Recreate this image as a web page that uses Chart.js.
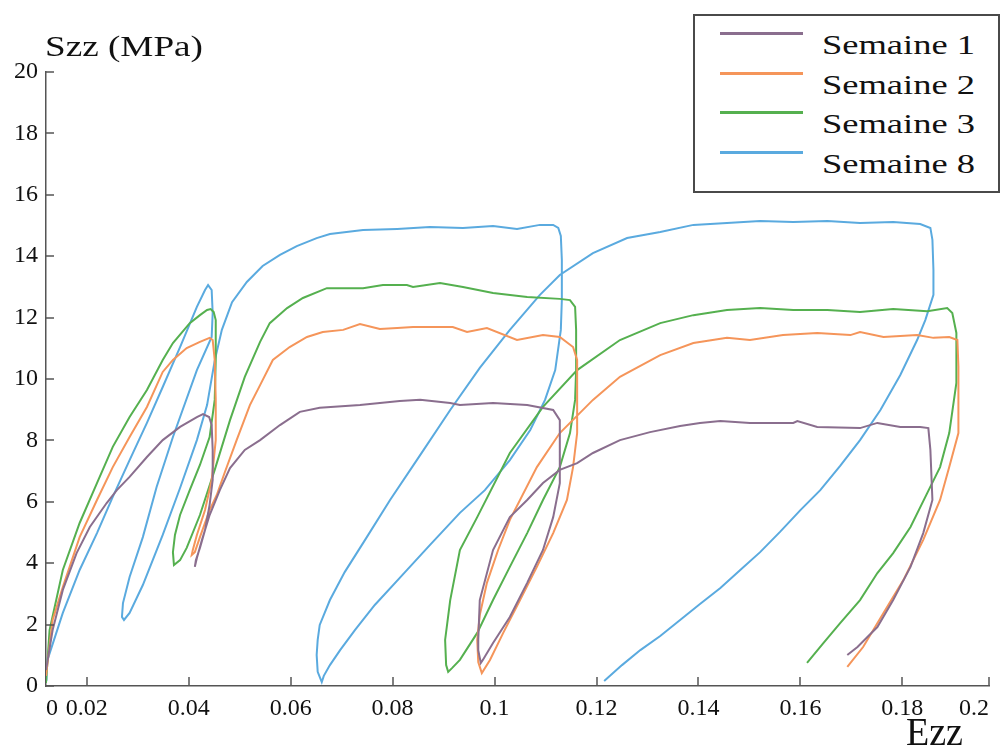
<!DOCTYPE html>
<html>
<head>
<meta charset="utf-8">
<title>Szz vs Ezz</title>
<script src="https://cdn.jsdelivr.net/npm/chart.js@4.4.1/dist/chart.umd.min.js"></script>
<style>
  body { margin: 0; background: #fff; }
  #wrap { position: relative; width: 1002px; height: 747px; font-family: "Liberation Serif", serif; color: #111; }
  #wrap canvas { position: absolute; left: 0; top: 0; }
  .lbl { position: absolute; white-space: nowrap; line-height: 1; transform-origin: left center; }
  #legend { position: absolute; left: 693px; top: 14px; width: 303px; height: 175px; border: 2px solid #4a4a4a; background: #fff; }
  .row { position: absolute; left: 0; width: 100%; height: 40px; }
  .swatch { position: absolute; left: 25px; width: 83px; height: 0; border-top: 3px solid; }
  .name { position: absolute; left: 127px; font-size: 27px; line-height: 1; white-space: nowrap; transform-origin: left center; }
</style>
</head>
<body>
<div id="wrap">
  <canvas id="chart" width="1002" height="747"></canvas>
  <div class="lbl" id="ytitle" style="left:45px; top:32px; font-size:29px;">Szz (MPa)</div>
  <div class="lbl" id="xtitle" style="left:906px; top:712px; font-size:40px;">Ezz</div>
  <div id="legend"></div>
</div>
<script>
// series names and colours
const seriesNames = ['Semaine 1', 'Semaine 2', 'Semaine 3', 'Semaine 8'];
const seriesColors = ['#8a6e8e', '#f5955a', '#55b04f', '#5aaadf'];

// axis ticks (the "0" and "0.2" labels sit on the axis ends)
const xTickPos = [0.012, 0.02, 0.04, 0.06, 0.08, 0.1, 0.12, 0.14, 0.16, 0.18, 0.197];
const xTickLabels = ['0', '0.02', '0.04', '0.06', '0.08', '0.1', '0.12', '0.14', '0.16', '0.18', '0.2'];
const yTicks = [0, 2, 4, 6, 8, 10, 12, 14, 16, 18, 20];

// Semaine 1
const s1Ezz = [
  0.0120, 0.0133, 0.0153, 0.0180, 0.0206, 0.0239, 0.0259, 0.0284, 0.0318, 0.0349,
  0.0383, 0.0416, 0.0428, 0.0440, 0.0445, 0.0447, 0.0447, 0.0441, 0.0432, 0.0422,
  0.0414, 0.0412,
  0.0416, 0.0426, 0.0441, 0.0461, 0.0481, 0.0510, 0.0540, 0.0579, 0.0618, 0.0657,
  0.0736, 0.0814, 0.0854, 0.0913, 0.0932, 0.0997, 0.1064, 0.1115, 0.1128, 0.1128,
  0.1128, 0.1115, 0.1095, 0.1064, 0.1030, 0.0997, 0.0977, 0.0973,
  0.0968, 0.0968, 0.0971, 0.0997, 0.1030, 0.1064, 0.1095, 0.1128, 0.1162, 0.1193,
  0.1246, 0.1305, 0.1364, 0.1403, 0.1443, 0.1501, 0.1586, 0.1594, 0.1633, 0.1717,
  0.1751, 0.1796, 0.1835, 0.1851, 0.1855, 0.1859, 0.1841, 0.1816, 0.1782, 0.1751,
  0.1712, 0.1692
];
const s1Szz = [
  0.52, 1.82, 3.13, 4.33, 5.18, 5.96, 6.38, 6.81, 7.46, 8.01,
  8.44, 8.76, 8.86, 8.76, 8.50, 7.69, 6.71, 5.90, 5.08, 4.50,
  4.10, 3.88,
  4.17, 4.76, 5.57, 6.38, 7.10, 7.69, 8.01, 8.50, 8.93, 9.06,
  9.15, 9.28, 9.32, 9.22, 9.15, 9.22, 9.15, 8.99, 8.66, 7.13,
  6.61, 5.50, 4.43, 3.36, 2.25, 1.40, 0.85, 0.75,
  1.17, 1.50, 2.80, 4.43, 5.50, 6.06, 6.61, 7.04, 7.26, 7.59,
  8.01, 8.27, 8.47, 8.57, 8.63, 8.57, 8.57, 8.63, 8.44, 8.40,
  8.57, 8.44, 8.44, 8.40, 7.69, 6.06, 4.98, 3.88, 2.80, 1.92,
  1.27, 1.01
];

// Semaine 2
const s2Ezz = [
  0.0120, 0.0133, 0.0153, 0.0186, 0.0220, 0.0251, 0.0284, 0.0318, 0.0349, 0.0369,
  0.0396, 0.0422, 0.0441, 0.0447, 0.0451, 0.0453, 0.0453, 0.0445, 0.0432, 0.0416,
  0.0408, 0.0406,
  0.0412, 0.0422, 0.0441, 0.0455, 0.0471, 0.0494, 0.0520, 0.0540, 0.0565, 0.0598,
  0.0632, 0.0663, 0.0703, 0.0736, 0.0775, 0.0809, 0.0840, 0.0873, 0.0918, 0.0946,
  0.0985, 0.1044, 0.1095, 0.1128, 0.1154, 0.1162, 0.1162, 0.1162, 0.1154, 0.1142,
  0.1115, 0.1083, 0.1050, 0.1017, 0.0991, 0.0975,
  0.0968, 0.0966, 0.0971, 0.0985, 0.1007, 0.1030, 0.1083, 0.1128, 0.1193, 0.1246,
  0.1325, 0.1390, 0.1456, 0.1501, 0.1566, 0.1633, 0.1698, 0.1717, 0.1763, 0.1829,
  0.1861, 0.1892, 0.1908, 0.1910, 0.1910, 0.1892, 0.1874, 0.1841, 0.1802, 0.1763,
  0.1723, 0.1692
];
const s2Szz = [
  0.33, 2.15, 3.22, 4.85, 6.06, 7.13, 8.11, 9.09, 10.23, 10.62,
  11.01, 11.21, 11.34, 11.27, 10.62, 9.32, 8.01, 6.71, 5.73, 4.92,
  4.43, 4.27,
  4.36, 4.85, 5.73, 6.22, 6.97, 8.01, 9.15, 9.80, 10.62, 11.04,
  11.37, 11.53, 11.60, 11.79, 11.63, 11.66, 11.69, 11.69, 11.69, 11.53,
  11.66, 11.27, 11.43, 11.37, 11.04, 10.62, 9.32, 8.24, 7.13, 6.06,
  4.98, 3.88, 2.80, 1.73, 0.85, 0.42,
  0.78, 1.50, 2.31, 3.36, 4.43, 5.41, 7.13, 8.24, 9.32, 10.07,
  10.78, 11.17, 11.34, 11.27, 11.43, 11.50, 11.43, 11.53, 11.37, 11.43,
  11.34, 11.37, 11.27, 10.39, 8.24, 7.13, 6.06, 4.76, 3.45, 2.38,
  1.27, 0.62
];

// Semaine 3
const s3Ezz = [
  0.0120, 0.0127, 0.0153, 0.0186, 0.0220, 0.0251, 0.0284, 0.0318, 0.0349, 0.0369,
  0.0402, 0.0422, 0.0436, 0.0443, 0.0449, 0.0453, 0.0453, 0.0451, 0.0441, 0.0422,
  0.0402, 0.0383, 0.0373, 0.0369, 0.0371,
  0.0383, 0.0396, 0.0422, 0.0451, 0.0481, 0.0510, 0.0540, 0.0559, 0.0593, 0.0624,
  0.0671, 0.0710, 0.0742, 0.0781, 0.0828, 0.0840, 0.0893, 0.0938, 0.0997, 0.1064,
  0.1128, 0.1148, 0.1158, 0.1160, 0.1160, 0.1158, 0.1148, 0.1128, 0.1095, 0.1064,
  0.1030, 0.0997, 0.0966, 0.0932, 0.0917, 0.0909,
  0.0905, 0.0903, 0.0913, 0.0932, 0.0966, 0.1030, 0.1095, 0.1162, 0.1246, 0.1325,
  0.1390, 0.1456, 0.1521, 0.1586, 0.1653, 0.1717, 0.1782, 0.1849, 0.1888, 0.1898,
  0.1906, 0.1906, 0.1892, 0.1874, 0.1849, 0.1816, 0.1782, 0.1751, 0.1717, 0.1678,
  0.1645, 0.1613
];
const s3Szz = [
  0.10, 1.82, 3.78, 5.31, 6.61, 7.79, 8.76, 9.64, 10.62, 11.17,
  11.82, 12.08, 12.25, 12.28, 12.18, 11.92, 10.62, 9.32, 8.11, 7.20,
  6.38, 5.57, 4.92, 4.36, 3.94,
  4.10, 4.50, 5.57, 7.04, 8.66, 10.07, 11.21, 11.82, 12.31, 12.64,
  12.96, 12.96, 12.96, 13.06, 13.06, 13.00, 13.13, 13.00, 12.80, 12.67,
  12.61, 12.57, 12.35, 11.60, 10.29, 9.32, 8.24, 7.13, 6.06, 4.98,
  3.88, 2.80, 1.73, 0.85, 0.59, 0.46,
  0.68, 1.50, 2.80, 4.43, 5.50, 7.59, 9.09, 10.29, 11.27, 11.82,
  12.08, 12.25, 12.31, 12.25, 12.25, 12.18, 12.28, 12.21, 12.31, 12.15,
  11.50, 9.87, 8.24, 7.13, 6.29, 5.18, 4.33, 3.68, 2.80, 2.05,
  1.40, 0.75
];

// Semaine 8
const s8Ezz = [
  0.0120, 0.0121, 0.0153, 0.0186, 0.0220, 0.0251, 0.0284, 0.0318, 0.0349, 0.0383,
  0.0416, 0.0432, 0.0438, 0.0445, 0.0447, 0.0445, 0.0416, 0.0369, 0.0337, 0.0310,
  0.0284, 0.0271, 0.0269, 0.0273,
  0.0284, 0.0310, 0.0349, 0.0383, 0.0416, 0.0436, 0.0451, 0.0465, 0.0485, 0.0514,
  0.0545, 0.0579, 0.0612, 0.0651, 0.0677, 0.0742, 0.0809, 0.0873, 0.0938, 0.0997,
  0.1044, 0.1089, 0.1115, 0.1125, 0.1130, 0.1132, 0.1132, 0.1130, 0.1119, 0.1099,
  0.1070, 0.1030, 0.0981, 0.0932, 0.0873, 0.0814, 0.0765, 0.0726, 0.0697, 0.0677,
  0.0665, 0.0661,
  0.0653, 0.0651, 0.0653, 0.0657, 0.0677, 0.0706, 0.0746, 0.0795, 0.0854, 0.0913,
  0.0971, 0.1030, 0.1089, 0.1128, 0.1193, 0.1260, 0.1325, 0.1390, 0.1456, 0.1521,
  0.1586, 0.1653, 0.1717, 0.1782, 0.1835, 0.1855, 0.1859, 0.1861, 0.1861, 0.1845,
  0.1829, 0.1796, 0.1757, 0.1717, 0.1678, 0.1639, 0.1600, 0.1560, 0.1521, 0.1482,
  0.1443, 0.1403, 0.1364, 0.1325, 0.1286, 0.1250, 0.1215
];
const s8Szz = [
  0.20, 0.75, 2.38, 3.78, 4.98, 6.16, 7.36, 8.57, 9.74, 11.04,
  12.35, 12.90, 13.06, 12.90, 12.15, 11.37, 10.29, 8.11, 6.48, 4.85,
  3.55, 2.70, 2.25, 2.15,
  2.38, 3.29, 4.92, 6.45, 8.01, 9.15, 10.60, 11.60, 12.50, 13.16,
  13.68, 14.04, 14.33, 14.59, 14.72, 14.85, 14.89, 14.95, 14.92, 14.98,
  14.89, 15.02, 15.02, 14.92, 14.66, 13.88, 12.57, 11.60, 10.29, 9.32,
  8.34, 7.36, 6.38, 5.64, 4.59, 3.52, 2.64, 1.82, 1.17, 0.68,
  0.33, 0.13,
  0.46, 1.01, 1.50, 1.99, 2.80, 3.71, 4.76, 6.06, 7.52, 8.99,
  10.36, 11.60, 12.74, 13.39, 14.10, 14.59, 14.79, 15.02, 15.08, 15.15,
  15.11, 15.15, 15.08, 15.11, 15.05, 14.92, 14.53, 13.55, 12.74, 11.92,
  11.27, 10.13, 8.99, 8.01, 7.17, 6.38, 5.73, 5.02, 4.36, 3.78,
  3.19, 2.67, 2.15, 1.63, 1.17, 0.68, 0.16
];

const seriesEzz = [s1Ezz, s2Ezz, s3Ezz, s8Ezz];
const seriesSzz = [s1Szz, s2Szz, s3Szz, s8Szz];

const fontFamily = 'Liberation Serif';
const axisColor = '#555';
Chart.defaults.font.family = fontFamily;

// small inward tick marks, like the original figure
const innerTicks = {
  id: 'innerTicks',
  afterDraw(chart) {
    const { ctx, chartArea, scales } = chart;
    ctx.save();
    ctx.strokeStyle = axisColor;
    ctx.lineWidth = 1.5;
    ctx.beginPath();
    scales.x.ticks.forEach((t, i) => {
      if (i === 0) return;
      const px = Math.round(scales.x.getPixelForValue(t.value));
      ctx.moveTo(px, chartArea.bottom);
      ctx.lineTo(px, chartArea.bottom - 9);
    });
    scales.y.ticks.forEach(t => {
      const py = Math.round(scales.y.getPixelForValue(t.value));
      ctx.moveTo(chartArea.left, py);
      ctx.lineTo(chartArea.left + 8, py);
    });
    ctx.stroke();
    ctx.restore();
  }
};

const datasets = seriesNames.map((name, i) => ({
  label: name,
  data: seriesEzz[i].map((x, j) => ({ x: x, y: seriesSzz[i][j] })),
  showLine: true,
  borderColor: seriesColors[i],
  backgroundColor: seriesColors[i],
  borderWidth: 2,
  pointRadius: 0,
  fill: false,
  tension: 0
}));

new Chart(document.getElementById('chart'), {
  type: 'scatter',
  data: { datasets },
  plugins: [innerTicks],
  options: {
    responsive: false,
    animation: false,
    layout: { padding: { top: 72, right: 13, bottom: 0, left: 0 } },
    plugins: {
      legend: { display: false },
      tooltip: { enabled: false }
    },
    scales: {
      x: {
        type: 'linear',
        min: xTickPos[0],
        max: xTickPos[xTickPos.length - 1],
        afterBuildTicks: s => { s.ticks = xTickPos.map(v => ({ value: v })); },
        afterFit: s => { s.height = 61; },
        grid: { display: true, drawOnChartArea: false, drawTicks: false },
        border: { display: true, color: axisColor, width: 1.5 },
        ticks: {
          autoSkip: false, maxRotation: 0, minRotation: 0, align: 'inner',
          padding: 8, color: '#111',
          font: { family: fontFamily, size: 24 },
          callback: (v, i) => xTickLabels[i]
        }
      },
      y: {
        min: 0,
        max: 20,
        afterBuildTicks: s => { s.ticks = yTicks.map(v => ({ value: v })); },
        afterFit: s => { s.width = 46; },
        grid: { display: true, drawOnChartArea: false, drawTicks: false },
        border: { display: true, color: axisColor, width: 1.5 },
        ticks: {
          padding: 8, color: '#111',
          font: { family: fontFamily, size: 24 },
          callback: v => String(v)
        }
      }
    }
  }
});

// legend as real text
const legend = document.getElementById('legend');
seriesNames.forEach((name, i) => {
  const row = document.createElement('div');
  row.className = 'row';
  row.style.top = (i * 39.5) + 'px';
  row.innerHTML = '<div class="swatch" style="top:16px; border-color:' + seriesColors[i] + '"></div>' +
                  '<div class="name" style="top:16px;">' + name + '</div>';
  legend.appendChild(row);
});

// stretch the text horizontally to the widths seen in the figure
function fitWidth(el, w) {
  const cur = el.getBoundingClientRect().width;
  el.style.transform = 'scaleX(' + (w / cur) + ')';
}
fitWidth(document.getElementById('ytitle'), 158);
fitWidth(document.getElementById('xtitle'), 57);
document.querySelectorAll('.name').forEach(el => fitWidth(el, 153));
</script>
</body>
</html>
